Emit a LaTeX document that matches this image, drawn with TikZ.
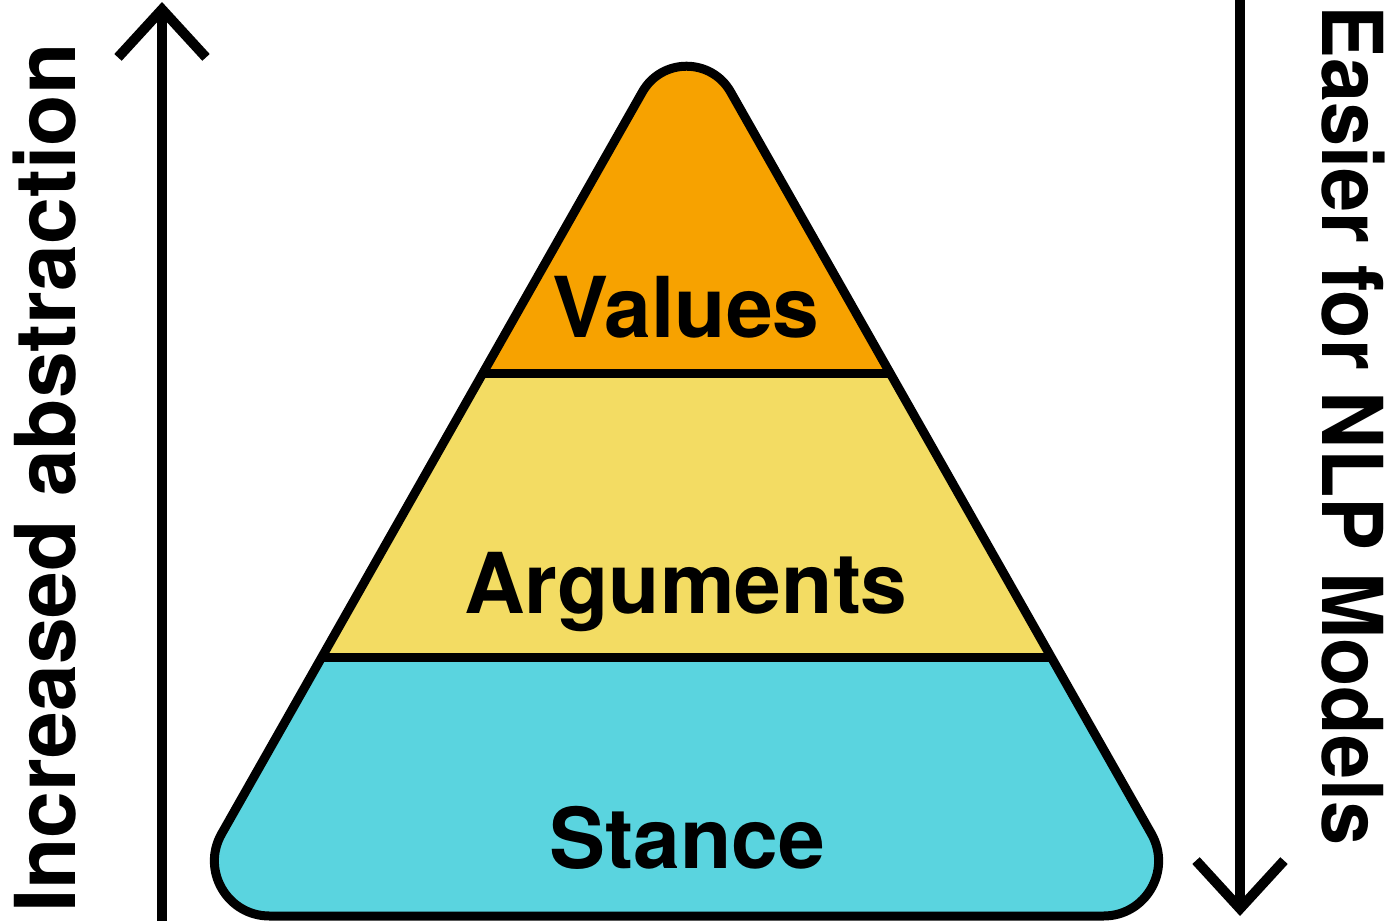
\documentclass[tikz,border=0pt]{standalone}
\usepackage{fontspec}
\setmainfont{TeX Gyre Heros}
\usetikzlibrary{arrows.meta}
\definecolor{valcol}{HTML}{F7A200}
\definecolor{argcol}{HTML}{F3DC63}
\definecolor{stancol}{HTML}{5AD4DF}
% pyramid outline with round corners
\def\pyrpath{(686.5,916) -- (1103.5,916) .. controls (1145.7,916) and (1172.2,870.5) .. (1151.4,833.8)
 -- (730.7,92.1) .. controls (711.2,57.6) and (661.8,57.6) .. (642.3,92.1)
 -- (221.6,833.8) .. controls (200.8,870.5) and (227.3,916) .. (269.5,916) -- cycle}
\begin{document}
\begin{tikzpicture}[x=1pt,y=-1pt,line join=round,line cap=round,
  lbl/.style={font=\fontsize{84}{90}\selectfont\bfseries,inner sep=0pt,anchor=base},
  axis/.style={line width=10pt,line cap=butt,-{Straight Barb[length=48pt,width=88pt,line cap=butt,line join=miter]}}]
 \useasboundingbox (0,0) rectangle (1395,921);
 % layers
 \begin{scope}
  \clip \pyrpath;
  \fill[valcol] (0,0) rectangle (1395,373);
  \fill[argcol] (0,373) rectangle (1395,657);
  \fill[stancol] (0,657) rectangle (1395,921);
  \draw[line width=9pt] (0,373) -- (1395,373) (0,657) -- (1395,657);
 \end{scope}
 \draw[line width=9pt] \pyrpath;
 \node[lbl] (values) at (686,337) {Values};
 \node[lbl] (arguments) at (686,613) {Arguments};
 \node[lbl] (stance) at (687,868) {Stance};
 % side arrows
 \coordinate (upfoot) at (162,921);
 \coordinate (uptip) at (162,2);
 \draw[axis] (upfoot) -- (uptip);
 \coordinate (downtop) at (1240,0);
 \coordinate (downtip) at (1240,916);
 \draw[axis] (downtop) -- (downtip);
 \node[lbl,rotate=90,anchor=base west] (abstr) at (75,913) {Increased abstraction};
 \node[lbl,rotate=-90,anchor=base west] (easier) at (1322,5) {\scalebox{0.943}[1]{Easier for NLP Models}};
\end{tikzpicture}
\end{document}
